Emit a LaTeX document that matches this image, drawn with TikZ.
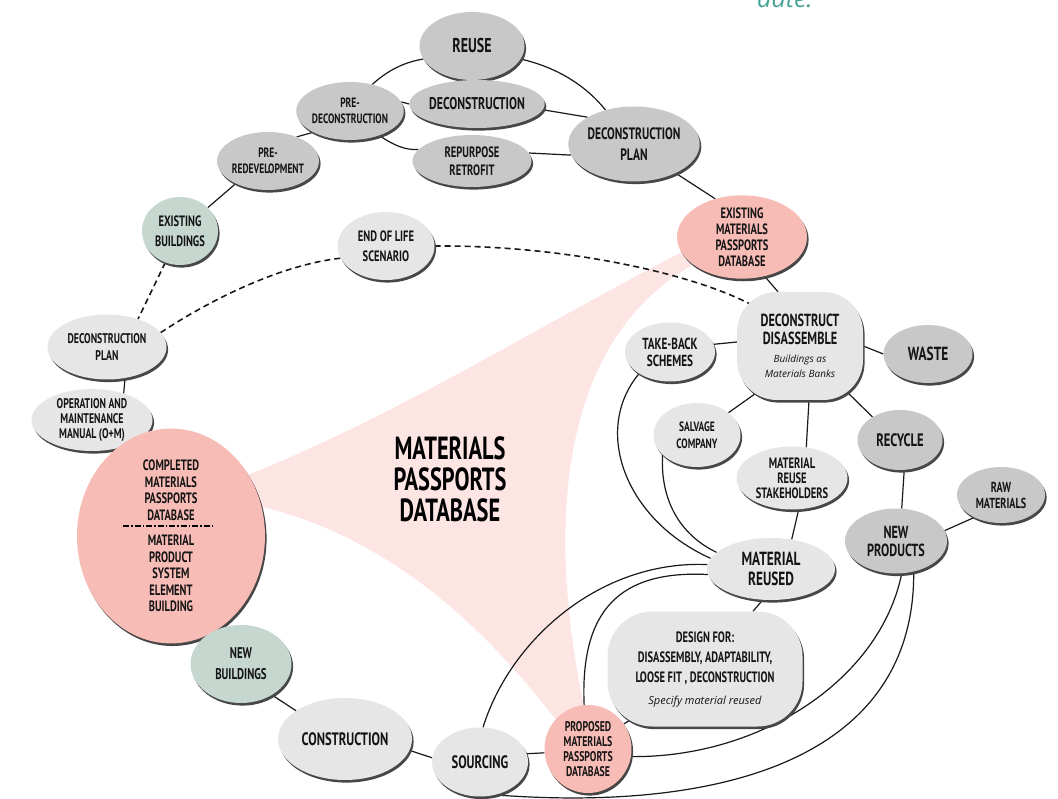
\documentclass[tikz,border=0pt]{standalone}
\usepackage{fontspec}
\usetikzlibrary{shapes.geometric,calc}
\newfontfamily\hand{PT Sans}[FakeStretch=0.7]
\newfontfamily\notefont{Open Sans}
\newfontfamily\datefont{Open Sans}
\definecolor{gdark}{HTML}{C8C8C8}
\definecolor{glight}{HTML}{E6E6E6}
\definecolor{gsage}{HTML}{C5D7CF}
\definecolor{pnode}{HTML}{F8BCB6}
\definecolor{pfan}{HTML}{FDE5E4}
\definecolor{dateteal}{HTML}{47A396}
\pgfdeclarelayer{bg}
\pgfsetlayers{bg,main}
\newcommand\ntx[2]{{\notefont\mdseries\itshape\fontsize{#1}{#1}\selectfont #2}}
\tikzset{
  blob/.style={ellipse, inner sep=0pt, align=center, text=black!92,
     preaction={fill=black!72, transform canvas={xshift=1.6pt,yshift=-2.6pt}}},
  darkblob/.style={blob, fill=gdark},
  lightblob/.style={blob, fill=glight},
  sageblob/.style={blob, fill=gsage},
  pinkblob/.style={blob, fill=pnode},
  squircle/.style={rectangle, rounded corners=#1},
  sz/.style 2 args={minimum width=#1pt, minimum height=#2pt},
  fs/.style 2 args={font=\hand\bfseries\fontsize{#1}{#2}\selectfont},
  link/.style={draw=black!90, line width=1.2pt},
  dlink/.style={draw=black!90, line width=1.6pt, dash pattern=on 6pt off 4pt},
}
\begin{document}
\begin{tikzpicture}[x=1pt,y=-1pt]
\useasboundingbox (0,0) rectangle (1058,799);
% nodes
\node[darkblob, sz={105}{68}, fs={20}{22}] (reuse) at (472,46) {REUSE};
\node[darkblob, sz={129}{48}, fs={17}{19}] (decon) at (477,104) {DECONSTRUCTION};
\node[darkblob, sz={93}{58}, fs={13.5}{16}] (predecon) at (350,111) {PRE-\\DECONSTRUCTION};
\node[darkblob, sz={119}{52}, fs={15}{18}] (repurpose) at (472,161) {REPURPOSE\\RETROFIT};
\node[darkblob, sz={122}{75}, fs={16.5}{21}] (dplanA) at (634,144) {DECONSTRUCTION\\PLAN};
\node[darkblob, sz={90}{58}, fs={13.5}{16}] (preredev) at (268,161) {PRE-\\REDEVELOPMENT};
\node[sageblob, sz={76}{68}, fs={15}{20}] (exbld) at (180,231) {EXISTING\\BUILDINGS};
\node[lightblob, sz={97}{68}, fs={15}{20}] (eol) at (386,246) {END OF LIFE\\SCENARIO};
\node[lightblob, sz={119}{65}, fs={14}{17}] (dplanB) at (107,347) {DECONSTRUCTION\\PLAN};
\node[lightblob, sz={121}{62}, fs={14}{15}] (om) at (92,420) {OPERATION AND\\MAINTENANCE\\MANUAL (O+M)};
\node[pinkblob, sz={188}{172}, fs={15}{16.5}] (cmpd) at (171,536)
  {COMPLETED\\MATERIALS\\PASSPORTS\\DATABASE\\[9pt]MATERIAL\\PRODUCT\\SYSTEM\\ELEMENT\\BUILDING};
\node[sageblob, sz={101}{78}, fs={15.5}{21}] (newbld) at (241,664) {NEW\\BUILDINGS};
\node[lightblob, sz={134}{82}, fs={18}{19}] (constr) at (345,739) {CONSTRUCTION};
\node[lightblob, sz={96}{69}, fs={18}{19}] (sourcing) at (480,762) {SOURCING};
\node[pinkblob, sz={87}{88}, fs={14}{15}] (pmpd) at (588,749) {PROPOSED\\MATERIALS\\PASSPORTS\\DATABASE};
\node[lightblob, squircle=45pt, sz={195}{115}, fs={15}{20}] (design) at (705,669)
  {DESIGN FOR:\\DISASSEMBLY, ADAPTABILITY,\\LOOSE FIT , DECONSTRUCTION\\[2pt]\ntx{11}{Specify material reused}};
\node[lightblob, sz={128}{62}, fs={19}{20}] (matreused) at (771,569) {MATERIAL\\REUSED};
\node[darkblob, sz={102}{65}, fs={17.5}{18}] (newprod) at (896,541) {NEW\\PRODUCTS};
\node[darkblob, sz={88}{56}, fs={14.5}{16}] (raw) at (1001,495) {RAW\\MATERIALS};
\node[darkblob, sz={85}{60}, fs={18}{20}] (recycle) at (900,440) {RECYCLE};
\node[lightblob, sz={111}{63}, fs={15}{15}] (mrs) at (792,478) {MATERIAL\\REUSE\\STAKEHOLDERS};
\node[lightblob, sz={87}{64}, fs={13.5}{17}] (salvage) at (697,435) {SALVAGE\\COMPANY};
\node[lightblob, sz={90}{59}, fs={16}{17}] (takeback) at (670,352) {TAKE-BACK\\SCHEMES};
\node[lightblob, squircle=40pt, sz={126}{108}, fs={17.5}{18}] (deconstruct) at (800,346)
  {DECONSTRUCT\\DISASSEMBLE\\\ntx{10}{Buildings as}\\[-3pt]\ntx{10}{Materials Banks}};
\node[darkblob, sz={89}{58}, fs={19}{20}] (waste) at (928,354) {WASTE};
\node[pinkblob, sz={130}{75}, fs={15}{16}] (empd) at (742,237) {EXISTING\\MATERIALS\\PASSPORTS\\DATABASE};
\node[fs={32}{31}, align=center, inner sep=0pt] (title) at (450,479) {MATERIALS\\PASSPORTS\\DATABASE};
\node[anchor=base west, inner sep=0pt, text=dateteal, font=\datefont\itshape\fontsize{25}{25}\selectfont] (datetxt) at (757,8) {date.};
% dash-dot separator in the completed database
\coordinate (sepL) at ([xshift=-48pt,yshift=10pt]cmpd.center);
\coordinate (sepR) at ([xshift=42pt,yshift=10pt]cmpd.center);
\draw[line width=1.3pt, dash pattern=on 6pt off 2pt on 1.5pt off 2pt] (sepL) -- (sepR);

\begin{pgfonlayer}{bg}
\fill[white] (0,0) rectangle (1058,799);
\fill[pfan] (235,480) .. controls (390,420) and (540,325) .. (686,250) -- (698,262)
   .. controls (570,330) and (540,500) .. (585,712) -- (560,725)
   .. controls (480,620) and (380,530) .. (245,503) -- cycle;
% top arc
\draw[link] (predecon.50) .. controls (388,70) and (405,62) .. (reuse.195);
\draw[link] (reuse.-15) .. controls (560,68) and (588,88) .. (dplanA.130);
\draw[link] (predecon.10) -- (decon.west);
\draw[link] (decon.-5) -- (dplanA.150);
\draw[link] (predecon.-40) .. controls (395,146) and (405,150) .. (repurpose.168);
\draw[link] (repurpose.8) -- (dplanA.190);
\draw[link] (predecon.210) -- (preredev.40);
\draw[link] (preredev.215) -- (exbld.40);
\draw[dlink] (exbld.245) -- (dplanB.42);
\draw[dlink] (dplanB.15) .. controls (210,300) and (280,265) .. (eol.195);
\draw[dlink] (eol.0) .. controls (560,245) and (690,272) .. ($(deconstruct.north west)!0.25!(deconstruct.center)$);
\draw[link] (dplanB.-60) -- (om.40);
\draw[link] (om.-40) -- (cmpd.118);
\draw[link] (cmpd.-75) -- (newbld.140);
\draw[link] (newbld.-45) -- (constr.150);
\draw[link] (constr.-10) -- (sourcing.175);
\draw[link] (sourcing.10) -- (pmpd.185);
\draw[link] ([xshift=-40pt,yshift=-30pt]design.center) -- (pmpd.35);
\draw[link] (matreused.-105) -- ([xshift=48pt]design.north);
\draw[link] (mrs.-78) -- (matreused.55);
\draw[link] (recycle.-82) -- (newprod.80);
\draw[link] (newprod.12) -- (raw.220);
\draw[link] (dplanA.-35) -- (empd.125);
\draw[link] (empd.-60) -- ([xshift=-22pt]deconstruct.north);
\draw[link] (takeback.10) -- ([yshift=4pt]deconstruct.west);
\draw[link] (deconstruct.east) -- (waste.west);
\draw[link] ([yshift=-16pt]deconstruct.center) -- (salvage);
\draw[link] ([xshift=9pt]deconstruct.south) -- (mrs.65);
\draw[link] (deconstruct.center) -- (recycle.140);
% long curves
\draw[link] (takeback.215) .. controls (592,430) and (625,520) .. (matreused.170);
\draw[link] (salvage.210) .. controls (660,500) and (680,535) .. (matreused.163);
\draw[link] (matreused.176) .. controls (600,560) and (510,640) .. (sourcing.85);
\draw[link] (matreused.185) .. controls (620,570) and (580,610) .. (pmpd.95);
\draw[link] (pmpd.-10) .. controls (760,758) and (880,680) .. (newprod.-80);
\draw[link] (sourcing.-65) .. controls (720,812) and (915,760) .. (newprod.-60);
\end{pgfonlayer}
\end{tikzpicture}
\end{document}
